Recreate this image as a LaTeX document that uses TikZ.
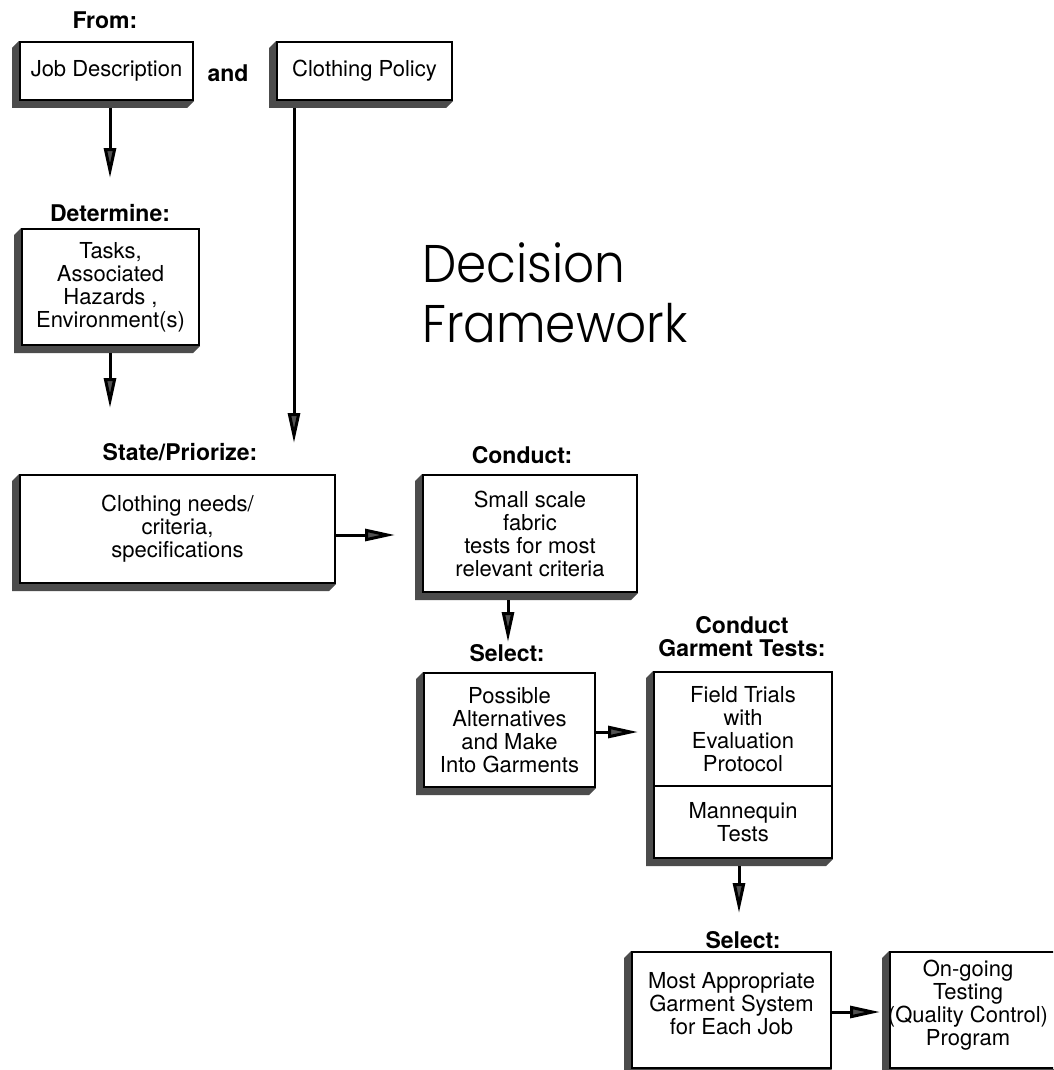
\documentclass[tikz,border=0pt]{standalone}
\usepackage{fontspec}
\setmainfont{TeX Gyre Heros}
\newfontfamily\titlefont{Poppins Light}
\usetikzlibrary{arrows.meta,calc}
\pgfdeclarelayer{background}
\pgfsetlayers{background,main}
\definecolor{shadowc}{gray}{0.3}
\definecolor{headc}{gray}{0.32}
\tikzset{
  box/.style={draw=black, line width=2pt, fill=white, inner sep=0pt, align=center,
    font=\fontsize{22}{23}\selectfont},
  boxtext/.style={inner sep=0pt, align=center, font=\fontsize{22}{23}\selectfont},
  lab/.style={font=\bfseries\fontsize{23}{23}\selectfont, inner sep=0pt, align=center},
  arr/.style={line width=3pt, -{Triangle[length=30pt,width=12pt,fill=headc]}, shorten <=7pt},
  ttl/.style={font=\titlefont\fontsize{53}{60}\selectfont, inner sep=0pt, anchor=base west, xscale=0.915},
}
\newcommand\bevel[2]{\fill[shadowc] (#1) -- ++(-7,7) |- ($(#2)+(-7,7)$) -- (#2) -| (#1) -- cycle;}
\begin{document}
\begin{tikzpicture}[x=1pt,y=-1pt]
\useasboundingbox (0,0) rectangle (1053,1070);
\clip (0,0) rectangle (1053,1070);
% labels
\node[lab] (from) at (105,20) {From:};
\node[lab] (and) at (228,73) {and};
\node[lab] (detl) at (110,213) {Determine:};
\node[lab] (stl) at (180,452) {State/Priorize:};
\node[lab] (conl) at (522,455) {Conduct:};
\node[lab] (sell) at (507,653) {Select:};
\node[lab] (garl) at (742,637) {Conduct\\Garment Tests:};
\node[lab] (sel2) at (743,940) {Select:};
% boxes
\node[box, minimum width=173pt, minimum height=58pt] (jd) at (106.5,71) {Job Description};
\node[box, minimum width=175pt, minimum height=58pt] (cp) at (364.5,71) {Clothing Policy};
\node[box, minimum width=177pt, minimum height=116pt] (det) at (110.5,287) {Tasks,\\Associated\\Hazards ,\\Environment(s)};
\node[box, minimum width=315pt, minimum height=108pt] (st) at (177.5,529) {Clothing needs/\\criteria,\\specifications};
\node[box, minimum width=214pt, minimum height=117pt] (con) at (530,533.5) {Small scale\\fabric\\tests for most\\relevant criteria};
\node[box, minimum width=171pt, minimum height=114pt] (sel) at (509.5,730) {Possible\\Alternatives\\and Make\\Into Garments};
\node[box, minimum width=178pt, minimum height=114pt] (garA) at (743,729) {Field Trials\\with\\Evaluation\\Protocol};
\node[box, minimum width=178pt, minimum height=72pt] (garB) at (743,822) {Mannequin\\Tests};
\node[box, minimum width=199pt, minimum height=116pt] (most) at (731.5,1010) {Most Appropriate\\Garment System\\for Each Job\\[-9pt]\mbox{}};
\node[box, minimum width=180pt, minimum height=116pt] (ong) at (980,1010) {};
\node[boxtext] (ongt) at (968,1005) {On-going\\Testing\\(Quality Control)\\Program};
% title
\node[ttl] (t1) at (422,282) {Decision};
\node[ttl] (t2) at (422,342) {Framework};
% shadows
\begin{pgfonlayer}{background}
\fill[white] (0,0) rectangle (1053,1070);
\bevel{jd.north west}{jd.south east}
\bevel{cp.north west}{cp.south east}
\bevel{det.north west}{det.south east}
\bevel{st.north west}{st.south east}
\bevel{con.north west}{con.south east}
\bevel{sel.north west}{sel.south east}
\bevel{garA.north west}{garB.south east}
\bevel{most.north west}{most.south east}
\bevel{ong.north west}{ong.south east}
\end{pgfonlayer}
% arrows
\coordinate (h1) at (110,178);
\draw[arr] (jd.south -| h1) -- (h1);
\coordinate (h2) at (110,408);
\draw[arr] (det.south -| h2) -- (h2);
\coordinate (h3) at (294,443);
\draw[arr] (cp.south -| h3) -- (h3);
\coordinate (h4) at (395,535);
\draw[arr, shorten <=0pt] (st.east |- h4) -- (h4);
\coordinate (h5) at (508,642);
\draw[arr] (con.south -| h5) -- (h5);
\coordinate (h6) at (638,732);
\draw[arr, shorten <=0pt] (sel.east |- h6) -- (h6);
\coordinate (h7) at (739,913);
\draw[arr] (garB.south -| h7) -- (h7);
\coordinate (h8) at (880,1012);
\draw[arr, shorten <=0pt] (most.east |- h8) -- (h8);
\end{tikzpicture}
\end{document}
